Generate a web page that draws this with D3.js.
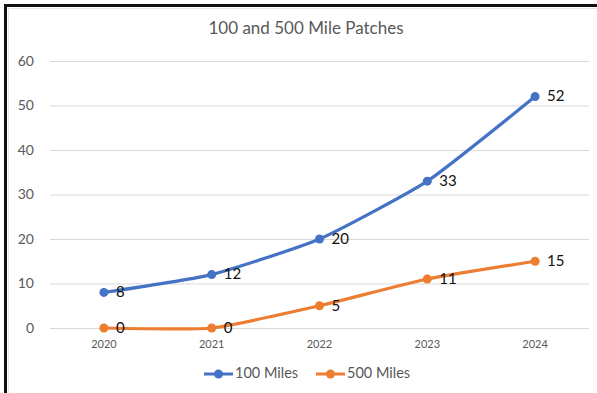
<!DOCTYPE html>
<html>
<head>
<meta charset="utf-8">
<script src="https://cdn.jsdelivr.net/npm/d3@7"></script>
<style>
  html, body { margin: 0; padding: 0; background: #fff; }
  svg { display: block; }
</style>
</head>
<body>
<svg id="chart" width="597" height="393"></svg>
<script>
// Patch counts per year
const years = ["2020", "2021", "2022", "2023", "2024"];
const miles100 = [8, 12, 20, 33, 52];
const miles500 = [0, 0, 5, 11, 15];
const seriesNames = ["100 Miles", "500 Miles"];
const seriesColors = ["#4472C4", "#ED7D31"];
const yTicks = [0, 10, 20, 30, 40, 50, 60];
const chartTitle = "100 and 500 Mile Patches";

const FONT = "Lato, 'Open Sans', sans-serif";
const W = 597, H = 393;
const svg = d3.select("#chart");

// Frame: dark top/left edges with a faint inner edge
svg.append("line").attr("x1", 8.5).attr("x2", 8.5).attr("y1", 8).attr("y2", H)
  .attr("stroke", "#e6e6e6").attr("stroke-width", 1);
svg.append("line").attr("x1", 8).attr("x2", W).attr("y1", 8.5).attr("y2", 8.5)
  .attr("stroke", "#e6e6e6").attr("stroke-width", 1);
svg.append("line").attr("x1", 5.5).attr("x2", 5.5).attr("y1", 4).attr("y2", H)
  .attr("stroke", "#111").attr("stroke-width", 3);
svg.append("line").attr("x1", 4).attr("x2", W).attr("y1", 5.5).attr("y2", 5.5)
  .attr("stroke", "#111").attr("stroke-width", 3);

const plot = { left: 50, right: 589, top: 61, bottom: 328 };

const x = d3.scaleBand().domain(years).range([plot.left, plot.right]);
const xc = d => x(d) + x.bandwidth() / 2;
const y = d3.scaleLinear().domain([0, 60]).range([plot.bottom, plot.top]);

// Title
svg.append("text").attr("x", 306).attr("y", 30)
  .attr("text-anchor", "middle").attr("dominant-baseline", "middle")
  .attr("font-family", FONT).attr("font-size", 17).attr("fill", "#595959")
  .text(chartTitle);

// Y axis with gridlines
const yAxis = d3.axisLeft(y).tickValues(yTicks).tickSize(-(plot.right - plot.left)).tickPadding(16);
const gy = svg.append("g").attr("transform", `translate(${plot.left},0)`).call(yAxis);
gy.select(".domain").remove();
gy.selectAll(".tick line").attr("stroke", "#d9d9d9").attr("stroke-width", 1);
gy.selectAll(".tick text").attr("font-family", FONT).attr("font-size", 14).attr("fill", "#595959");

// X axis labels
const xAxis = d3.axisBottom(x).tickSize(0).tickPadding(12);
const gx = svg.append("g").attr("transform", `translate(0,${plot.bottom})`).call(xAxis);
gx.select(".domain").remove();
gx.selectAll(".tick text").attr("font-family", FONT).attr("font-size", 11).attr("fill", "#595959");

// Series lines (lightly smoothed), markers and value labels
const series = [miles100, miles500];
const line = d3.line()
  .x((d, i) => xc(years[i]))
  .y(d => y(d))
  .curve(d3.curveCardinal.tension(0.5));

series.forEach((vals, si) => {
  const g = svg.append("g");
  g.append("path").datum(vals).attr("d", line)
    .attr("fill", "none").attr("stroke", seriesColors[si]).attr("stroke-width", 3.2)
    .attr("stroke-linecap", "round").attr("stroke-linejoin", "round");
  g.selectAll("circle").data(vals).join("circle")
    .attr("cx", (d, i) => xc(years[i])).attr("cy", d => y(d)).attr("r", 4.5)
    .attr("fill", seriesColors[si]);
  g.selectAll("text").data(vals).join("text")
    .attr("x", (d, i) => xc(years[i]) + 12).attr("y", d => y(d) + 1)
    .attr("dominant-baseline", "middle")
    .attr("font-family", FONT).attr("font-size", 15).attr("fill", "#111")
    .text(d => d);
});

// Legend
const legendItems = [
  { x: 204, name: seriesNames[0], color: seriesColors[0] },
  { x: 316, name: seriesNames[1], color: seriesColors[1] }
];
const lg = svg.append("g").attr("transform", "translate(0,374)");
legendItems.forEach(it => {
  lg.append("line").attr("x1", it.x).attr("x2", it.x + 29).attr("y1", 0).attr("y2", 0)
    .attr("stroke", it.color).attr("stroke-width", 3);
  lg.append("circle").attr("cx", it.x + 14.5).attr("cy", 0).attr("r", 4.5).attr("fill", it.color);
  lg.append("text").attr("x", it.x + 31).attr("y", 0.5).attr("dominant-baseline", "middle")
    .attr("font-family", FONT).attr("font-size", 14.5).attr("fill", "#595959")
    .text(it.name);
});
</script>
</body>
</html>
